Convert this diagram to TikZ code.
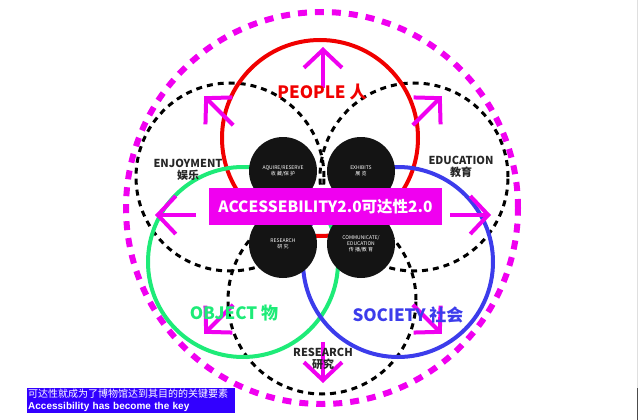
\documentclass[tikz,border=0pt]{standalone}
\usepackage{fontspec}
\setmainfont{Noto Sans CJK SC}
\newfontfamily\arialfont{Liberation Sans}
\usetikzlibrary{arrows.meta}
\definecolor{mag}{RGB}{240,0,240}
\definecolor{pplred}{RGB}{240,0,0}
\definecolor{objgreen}{RGB}{30,235,120}
\definecolor{socblue}{RGB}{60,60,235}
\definecolor{noteblue}{RGB}{50,0,255}

\begin{document}
\begin{tikzpicture}[x=1pt,y=-1pt,
		ring/.style={draw=#1,circle,line width=4pt,minimum size=190,inner sep=0pt},
		dotring/.style={draw=black,circle,line width=3pt,dash pattern=on 6pt off 5pt,minimum size=188,inner sep=0pt},
		hubdot/.style={circle,fill=black!92,minimum size=68,inner sep=0pt,text=white,font=\fontsize{5}{6}\selectfont,align=center},
		reach/.style={mag,line width=4pt,-{Straight Barb[length=18pt,width=38pt]}},
		tag/.style={font=\bfseries\fontsize{11}{12}\selectfont,align=center,text=black!85},
		big/.style={font=\bfseries\fontsize{17}{18}\selectfont}]
		\useasboundingbox (0,0) rectangle (640,420);
		\draw[gray!25] (637,0) -- (637,388);
		\draw[black!70] (637,388) -- (637,420);
		\node[draw=mag,circle,line width=6pt,dash pattern=on 9pt off 8pt,minimum size=392,inner sep=0pt] (outer) at (322,208) {};
		\node[dotring] (joy) at (230,177) {};
		\node[dotring] (edu) at (414,177) {};
		\node[dotring] (res) at (322,300) {};
		\node[ring=pplred,minimum size=196] (people) at (320,138) {};
		\node[ring=objgreen] (object) at (243,262) {};
		\node[ring=socblue] (society) at (398,262) {};
		\node[hubdot] (keep) at (283,171) {AQUIRE/RESERVE\\收 藏/保 护};
		\node[hubdot] (show) at (361,171) {EXHIBITS\\展 览};
		\node[hubdot] (study) at (283,244) {RESEARCH\\研 究};
		\node[hubdot] (talk) at (361,244) {COMMUNICATE/\\EDUCATION\\传 播/教 育};
		\node[fill=mag,text=white,minimum width=233,minimum height=37,inner sep=0pt,font=\bfseries\fontsize{15.5}{17}\selectfont] (access) at (325.5,206.5) {ACCESSEBILITY2.0可达性2.0};
		\coordinate (hub) at (323,215);
		\foreach \a in {0,45,...,315} {
			\coordinate (s\a) at ([shift={(\a:127)}]hub);
			\coordinate (t\a) at ([shift={(\a:168)}]hub);
			\draw[reach] (s\a) -- (t\a);
		}
		\node[big,text=pplred] (ppl) at (322,92) {PEOPLE 人};
		\node[big,text=objgreen] (obj) at (234,313) {OBJECT 物};
		\node[big,text=socblue] (soc) at (408,315) {SOCIETY 社会};
		\node[tag] (joylab) at (188,170) {ENJOYMENT\\娱乐};
		\node[tag] (edulab) at (461,167) {EDUCATION\\教育};
		\node[tag] (reslab) at (323,359) {RESEARCH\\研究};
		\node[fill=noteblue,text=white,anchor=north west,inner sep=1pt,text width=206,align=left] (note) at (27,388) {\fontsize{10}{10.5}\selectfont 可达性就成为了博物馆达到其目的的关键要素\\{\arialfont\bfseries\fontsize{10}{9.5}\selectfont Accessibility has become the key}};
	\end{tikzpicture}
\end{document}
